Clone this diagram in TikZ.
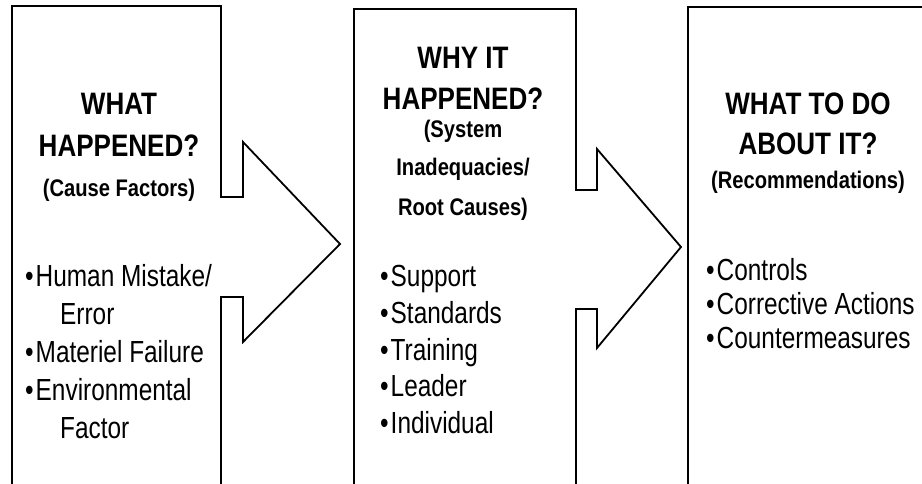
\documentclass[tikz,border=0pt]{standalone}
\usepackage{fontspec}
\setmainfont{Liberation Sans}[FakeStretch=0.84]
\newfontfamily\listfont{Liberation Sans}[FakeStretch=0.80]
\usepackage{tikz}
\usetikzlibrary{positioning}

\begin{document}
\begin{tikzpicture}[
			x=1pt, y=-1pt,
			outline/.style={draw, line width=1.8pt, line join=miter},
			head/.style={font=\fontsize{31}{36}\selectfont\bfseries, anchor=base, inner sep=0pt},
			subhead/.style={font=\fontsize{24}{28}\selectfont\bfseries, anchor=base, inner sep=0pt},
			item/.style={font=\listfont\fontsize{30.5}{34}\selectfont, anchor=base west, inner sep=0pt}
			]
			\useasboundingbox (0,0) rectangle (922,484);
			\clip (0,0) rectangle (922,484);
			
			% --- Kontury (pola ze strzalkami) ---
			\draw[outline] (12,490) -- (12,6) -- (221,6) -- (221,197) -- (243,197) -- (243,142)
				-- (340,244) -- (243,342) -- (243,297) -- (221,297) -- (221,490); % pole 1
			\draw[outline] (354,490) -- (354,9) -- (576,9) -- (576,190) -- (597,190) -- (597,149)
				-- (681,247) -- (597,348) -- (597,309) -- (576,309) -- (576,490); % pole 2
			\draw[outline] (688,490) -- (688,7) -- (930,7); % pole 3
			
			% --- Pole 1 ---
			\node[head] (what) at (119,114.5) {WHAT};
			\node[head] (happened) at (119,157) {HAPPENED?};
			\node[subhead] (cause) at (119,196.5) {(Cause Factors)};
			\node[item] (human) at (25,286) {\textbullet\hspace{2pt}Human Mistake/};
			\node[item] (error) at (60,324) {Error};
			\node[item] (materiel) at (25,362) {\textbullet\hspace{2pt}Materiel Failure};
			\node[item] (environ) at (25,400) {\textbullet\hspace{2pt}Environmental};
			\node[item] (factor) at (60,438) {Factor};
			
			% --- Pole 2 ---
			\node[head] (why) at (463,68.5) {WHY IT};
			\node[head] (happened2) at (463,110) {HAPPENED?};
			\node[subhead] (system) at (463,138) {(System};
			\node[subhead] (inadeq) at (463,176) {Inadequacies/};
			\node[subhead] (root) at (463,216) {Root Causes)};
			\node[item] (support) at (380,286) {\textbullet\hspace{2pt}Support};
			\node[item] (standards) at (380,323) {\textbullet\hspace{2pt}Standards};
			\node[item] (training) at (380,360) {\textbullet\hspace{2pt}Training};
			\node[item] (leader) at (380,396) {\textbullet\hspace{2pt}Leader};
			\node[item] (individual) at (380,433) {\textbullet\hspace{2pt}Individual};
			
			% --- Pole 3 ---
			\node[head] (whatdo) at (808,115) {WHAT TO DO};
			\node[head] (about) at (808,155) {ABOUT IT?};
			\node[subhead] (recomm) at (808,188.5) {(Recommendations)};
			\node[item] (controls) at (706,280) {\textbullet\hspace{2pt}Controls};
			\node[item] (corrective) at (706,314) {\textbullet\hspace{2pt}Corrective Actions};
			\node[item] (counter) at (706,348) {\textbullet\hspace{2pt}Countermeasures};
			
		\end{tikzpicture}
\end{document}
